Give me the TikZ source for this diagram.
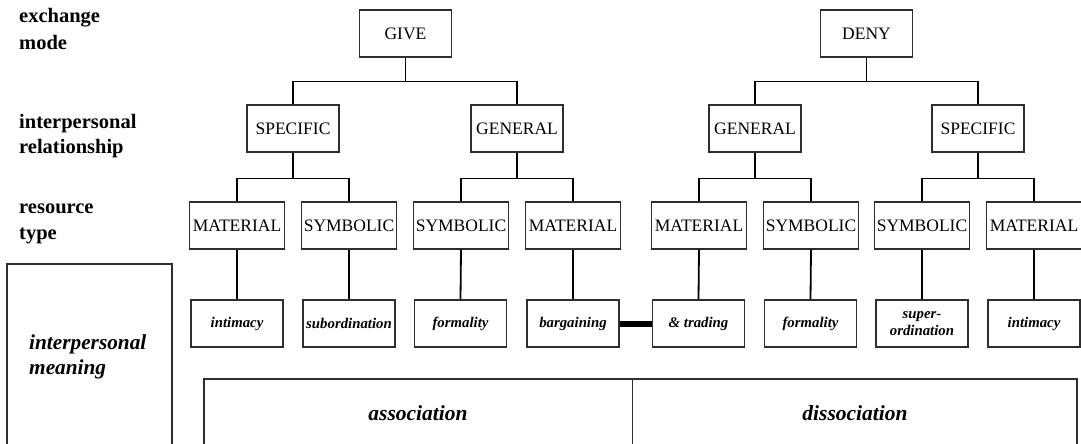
\documentclass[tikz,border=0pt]{standalone}
\usepackage{fontspec}
\setmainfont{Liberation Serif}
\definecolor{edge}{HTML}{2E2E2E}
\begin{document}
\begin{tikzpicture}[x=1pt,y=-1pt,
  catbox/.style={draw=edge, line width=1.1pt, minimum width=92pt, minimum height=47pt,
    inner sep=0pt, font=\fontsize{17.5}{20}\selectfont, text height=11.6pt, text depth=0pt},
  resbox/.style={catbox, minimum width=95pt},
  meanbox/.style={draw=edge, line width=1.1pt, minimum width=92pt, minimum height=47pt,
    inner sep=0pt, align=center, font=\fontsize{14.8}{17}\selectfont\bfseries\itshape},
  conn/.style={line width=1.8pt, black},
  lab/.style={anchor=base west, inner sep=0pt, font=\fontsize{20.5}{26}\selectfont\bfseries},
  bigit/.style={anchor=base, inner sep=0pt, font=\fontsize{21.5}{26}\selectfont\bfseries\itshape}]
\useasboundingbox (0,0) rectangle (1081,444);

% row labels
\node[lab] (lexa) at (19,23) {exchange};
\node[lab] (lexb) at (19,49) {mode};
\node[lab] (lipa) at (19,128) {interpersonal};
\node[lab] (lipb) at (19,153) {relationship};
\node[lab] (lrta) at (19,213) {resource};
\node[lab] (lrtb) at (19,239) {type};

% exchange mode
\node[catbox] (give) at (405.5,33.5) {GIVE};
\node[catbox] (deny) at (866.5,33.5) {DENY};

% interpersonal relationship
\node[catbox] (spl) at (293,128.5) {SPECIFIC};
\node[catbox] (gnl) at (517,128.5) {GENERAL};
\node[catbox] (gnr) at (755,128.5) {GENERAL};
\node[catbox] (spr) at (978,128.5) {SPECIFIC};

% resource type
\node[resbox] (r1) at (237,225.5) {MATERIAL};
\node[resbox] (r2) at (349,225.5) {SYMBOLIC};
\node[resbox] (r3) at (461,225.5) {SYMBOLIC};
\node[resbox] (r4) at (573,225.5) {MATERIAL};
\node[resbox] (r5) at (699,225.5) {MATERIAL};
\node[resbox] (r6) at (811,225.5) {SYMBOLIC};
\node[resbox] (r7) at (922,225.5) {SYMBOLIC};
\node[resbox] (r8) at (1034,225.5) {MATERIAL};

% interpersonal meaning
\node[meanbox] (m1) at (237,323.5) {intimacy};
\node[meanbox] (m2) at (349,323.5) {subordination};
\node[meanbox] (m3) at (460.5,323.5) {formality};
\node[meanbox] (m4) at (573,323.5) {bargaining};
\node[meanbox] (m5) at (698.5,323.5) {\&\ trading};
\node[meanbox] (m6) at (810.5,323.5) {formality};
\node[meanbox] (m7) at (922,323.5) {super-\\ordination};
\node[meanbox] (m8) at (1034,323.5) {intimacy};

% tree connectors
\draw[conn] (spl.north) -- ++(0,-23) coordinate (bg) -| (gnl.north);
\draw[conn] (give.south) -- (give.south |- bg);
\draw[conn] (gnr.north) -- ++(0,-23) coordinate (bd) -| (spr.north);
\draw[conn] (deny.south) -- (deny.south |- bd);

\draw[conn] (r1.north) -- ++(0,-23) coordinate (b1) -| (r2.north);
\draw[conn] (spl.south) -- (spl.south |- b1);
\draw[conn] (r3.north) -- ++(0,-23) coordinate (b2) -| (r4.north);
\draw[conn] (gnl.south) -- (gnl.south |- b2);
\draw[conn] (r5.north) -- ++(0,-23) coordinate (b3) -| (r6.north);
\draw[conn] (gnr.south) -- (gnr.south |- b3);
\draw[conn] (r7.north) -- ++(0,-23) coordinate (b4) -| (r8.north);
\draw[conn] (spr.south) -- (spr.south |- b4);

\foreach \i in {1,...,8} {
  \draw[conn] (r\i.south) -- (m\i.north);
}

% bargaining & trading link
\draw[line width=6pt, black] (m4.east) -- (m5.west);

% interpersonal meaning panel
\draw[draw=edge, line width=1.1pt] (7,450) |- (172,264) -- (172,450);
\node[anchor=base west, inner sep=0pt, font=\fontsize{21.3}{25}\selectfont\bfseries\itshape] (ima) at (29,349) {interpersonal};
\node[anchor=base west, inner sep=0pt, font=\fontsize{21.3}{25}\selectfont\bfseries\itshape] (imb) at (29,374) {meaning};

% association / dissociation panel
\draw[draw=edge, line width=1.1pt] (204,450) |- (1077,379) -- (1077,450);
\draw[draw=edge, line width=1.1pt] (632.5,379) -- (632.5,450);
\node[bigit] (assoc) at (418,420) {association};
\node[bigit] (dissoc) at (855,420) {dissociation};
\end{tikzpicture}
\end{document}
